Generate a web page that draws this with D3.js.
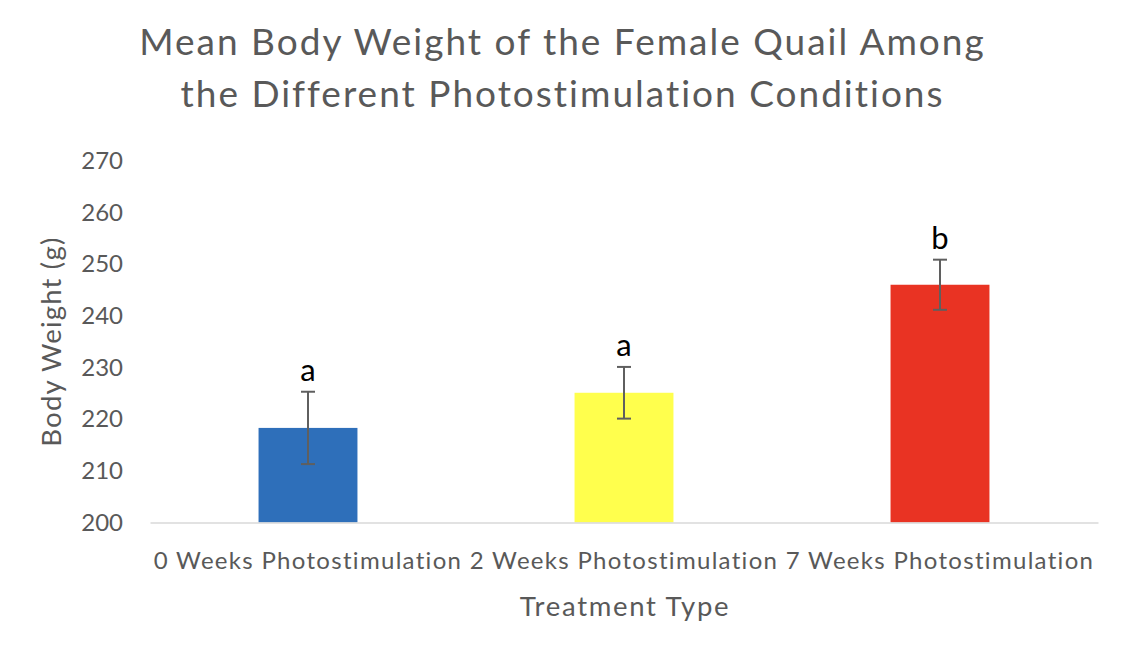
<!DOCTYPE html>
<html>
<head>
<meta charset="utf-8">
<script src="https://cdn.jsdelivr.net/npm/d3@7"></script>
<style>
  html, body { margin: 0; padding: 0; background: #ffffff; }
  svg { display: block; }
  text { font-family: Lato, "Open Sans", "Liberation Sans", sans-serif; }
</style>
</head>
<body>
<svg id="chart" width="1124" height="656"></svg>
<script>
// ---- data ----
const categories = ["0 Weeks Photostimulation", "2 Weeks Photostimulation", "7 Weeks Photostimulation"];
const meanWeights = [218.3, 225.1, 246.0];
const errorValues = [7.0, 5.0, 4.85];
const sigLetters = ["a", "a", "b"];
const barColors = ["#2e6fba", "#ffff4d", "#e93323"];
const yTicks = [200, 210, 220, 230, 240, 250, 260, 270];
const titleLines = ["Mean Body Weight of the Female Quail Among", "the Different Photostimulation Conditions"];
const xAxisTitle = "Treatment Type";
const yAxisTitle = "Body Weight (g)";

// ---- layout ----
const plot = { left: 150, right: 1098, top: 160.7, bottom: 522.5 };
const textColor = "#595959";
const fontStack = "Lato, 'Open Sans', sans-serif";

const svg = d3.select("#chart");

const x = d3.scaleBand()
  .domain(categories)
  .range([plot.left, plot.right])
  .paddingInner(0.687)
  .paddingOuter(0.3435);

const y = d3.scaleLinear()
  .domain([200, 270])
  .range([plot.bottom, plot.top]);

// title
svg.append("g").selectAll("text")
  .data(titleLines)
  .enter().append("text")
  .attr("x", 562.5)
  .attr("y", (d, i) => 55 + i * 52)
  .attr("text-anchor", "middle")
  .attr("fill", textColor)
  .style("font-size", "37px")
  .style("letter-spacing", "2px")
  .text(d => d);

// y axis (labels only)
const yAxis = d3.axisLeft(y).tickValues(yTicks).tickSize(0).tickPadding(0);
const yg = svg.append("g")
  .attr("transform", `translate(${123},0)`)
  .call(yAxis);
yg.select(".domain").remove();
yg.selectAll("text")
  .attr("fill", textColor)
  .style("font-size", "24px")
  .style("font-family", fontStack);

// bars
svg.append("g").selectAll("rect")
  .data(categories)
  .enter().append("rect")
  .attr("x", d => x(d))
  .attr("width", x.bandwidth())
  .attr("y", (d, i) => y(meanWeights[i]))
  .attr("height", (d, i) => y(200) - y(meanWeights[i]))
  .attr("fill", (d, i) => barColors[i]);

// x axis
const xAxis = d3.axisBottom(x).tickSize(0).tickPadding(0);
const xg = svg.append("g")
  .attr("transform", `translate(0,${plot.bottom})`)
  .call(xAxis);
xg.select(".domain")
  .attr("stroke", "#d9d9d9")
  .attr("stroke-width", 1.5);
xg.selectAll("text")
  .attr("dy", "0")
  .attr("y", 46.5)
  .attr("fill", textColor)
  .style("font-size", "24px")
  .style("letter-spacing", "1.3px")
  .style("font-family", fontStack);

// error bars
const eb = svg.append("g").attr("stroke", "#5f5f5f").attr("stroke-width", 2);
categories.forEach((c, i) => {
  const cx = x(c) + x.bandwidth() / 2;
  const top = y(meanWeights[i] + errorValues[i]);
  const bot = y(meanWeights[i] - errorValues[i]);
  eb.append("line").attr("x1", cx).attr("x2", cx).attr("y1", top).attr("y2", bot);
  eb.append("line").attr("x1", cx - 7).attr("x2", cx + 7).attr("y1", top).attr("y2", top);
  eb.append("line").attr("x1", cx - 7).attr("x2", cx + 7).attr("y1", bot).attr("y2", bot);
});

// significance letters
svg.append("g").selectAll("text")
  .data(categories)
  .enter().append("text")
  .attr("x", d => x(d) + x.bandwidth() / 2)
  .attr("y", (d, i) => y(meanWeights[i] + errorValues[i]) - 11)
  .attr("text-anchor", "middle")
  .attr("fill", "#000000")
  .style("font-size", "31px")
  .text((d, i) => sigLetters[i]);

// axis titles
svg.append("text")
  .attr("x", 625)
  .attr("y", 616)
  .attr("text-anchor", "middle")
  .attr("fill", textColor)
  .style("font-size", "27.5px")
  .style("letter-spacing", "1.7px")
  .text(xAxisTitle);

svg.append("text")
  .attr("transform", `translate(61,${(plot.top + plot.bottom) / 2}) rotate(-90)`)
  .attr("text-anchor", "middle")
  .attr("fill", textColor)
  .style("font-size", "27.5px")
  .style("letter-spacing", "1.2px")
  .text(yAxisTitle);
</script>
</body>
</html>
